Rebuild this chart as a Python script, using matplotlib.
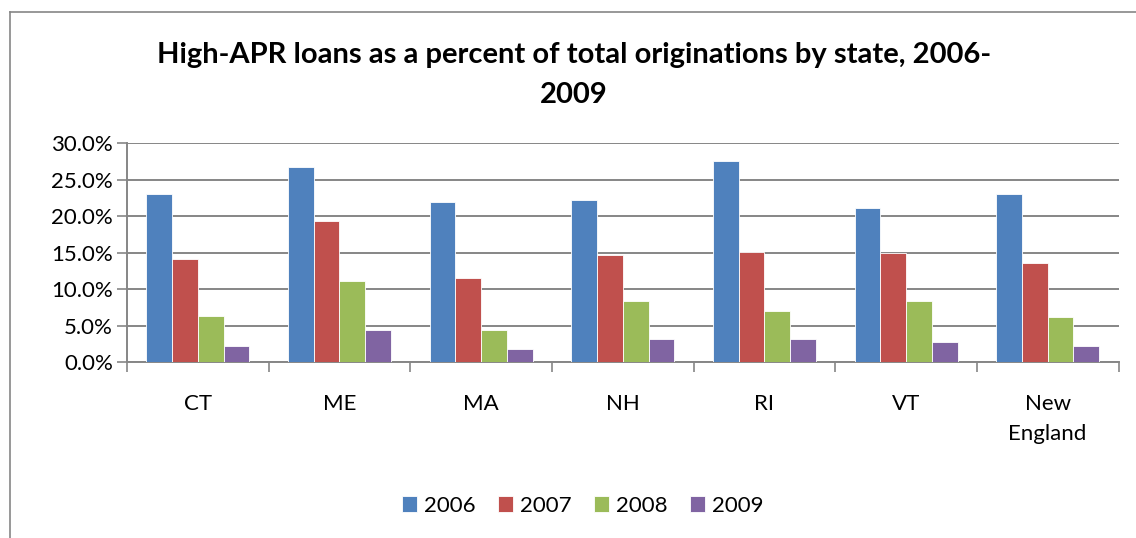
import numpy as np
import matplotlib.pyplot as plt
from matplotlib.lines import Line2D
from matplotlib.ticker import PercentFormatter

states = ['CT', 'ME', 'MA', 'NH', 'RI', 'VT', 'New\nEngland']
years = ['2006', '2007', '2008', '2009']
pct_2006 = [23.1, 26.8, 21.9, 22.2, 27.6, 21.2, 23.1]
pct_2007 = [14.1, 19.4, 11.5, 14.7, 15.1, 15.0, 13.6]
pct_2008 = [6.3, 11.1, 4.4, 8.4, 7.0, 8.4, 6.2]
pct_2009 = [2.3, 4.4, 1.8, 3.2, 3.2, 2.8, 2.3]
colors = ['#4F81BD', '#C0504D', '#9BBB59', '#8064A2']

plt.rcParams['font.family'] = ['Lato', 'DejaVu Sans']

fig = plt.figure(figsize=(11.36, 5.38), dpi=100)
ax = fig.add_axes([0.1118, 0.3266, 0.8728, 0.4070])

x = np.arange(len(states))
w = 1 / 5.5
series = [pct_2006, pct_2007, pct_2008, pct_2009]
for i, (vals, c, yr) in enumerate(zip(series, colors, years)):
    ax.bar(x + (i - 1.5) * w, vals, w, color=c, edgecolor='#ffffff',
           linewidth=0.6, label=yr, zorder=3)

ax.set_xlim(-0.5, len(states) - 0.5)
ax.set_ylim(0, 30)
ax.set_yticks(np.arange(0, 31, 5))
ax.yaxis.set_major_formatter(PercentFormatter(decimals=1))
ax.grid(axis='y', color='#868686', linewidth=1.4, zorder=0)

# category boundaries get the tick marks, labels sit in between
ax.set_xticks(np.arange(-0.5, len(states), 1))
ax.set_xticklabels([])
ax.set_xticks(x, minor=True)
ax.set_xticklabels(states, minor=True, linespacing=1.6)
ax.tick_params(axis='x', which='major', length=7, width=1.2, color='#868686')
ax.tick_params(axis='x', which='minor', length=0, pad=23, labelsize=16)
ax.tick_params(axis='y', length=7, width=1.2, color='#868686', labelsize=16, pad=3)

for side in ['top', 'right']:
    ax.spines[side].set_visible(False)
for side in ['left', 'bottom']:
    ax.spines[side].set_color('#868686')
    ax.spines[side].set_linewidth(1.4)

fig.text(0.505, 0.898, 'High-APR loans as a percent of total originations by state, 2006-',
         ha='center', va='center', fontsize=21, fontweight='bold')
fig.text(0.505, 0.823, '2009', ha='center', va='center', fontsize=21, fontweight='bold')

fig.legend(loc='center', bbox_to_anchor=(0.513, 0.06), ncol=4, frameon=False,
           fontsize=16, handlelength=0.68, handleheight=0.68, columnspacing=1.0,
           handletextpad=0.32)

# chart area border
fig.add_artist(Line2D([10 / 1136, 10 / 1136], [0, 1 - 12 / 538],
                      transform=fig.transFigure, color='#868686', linewidth=1.2))
fig.add_artist(Line2D([10 / 1136, 1], [1 - 12 / 538, 1 - 12 / 538],
                      transform=fig.transFigure, color='#868686', linewidth=1.2))

fig.savefig('out.png', dpi=100)
